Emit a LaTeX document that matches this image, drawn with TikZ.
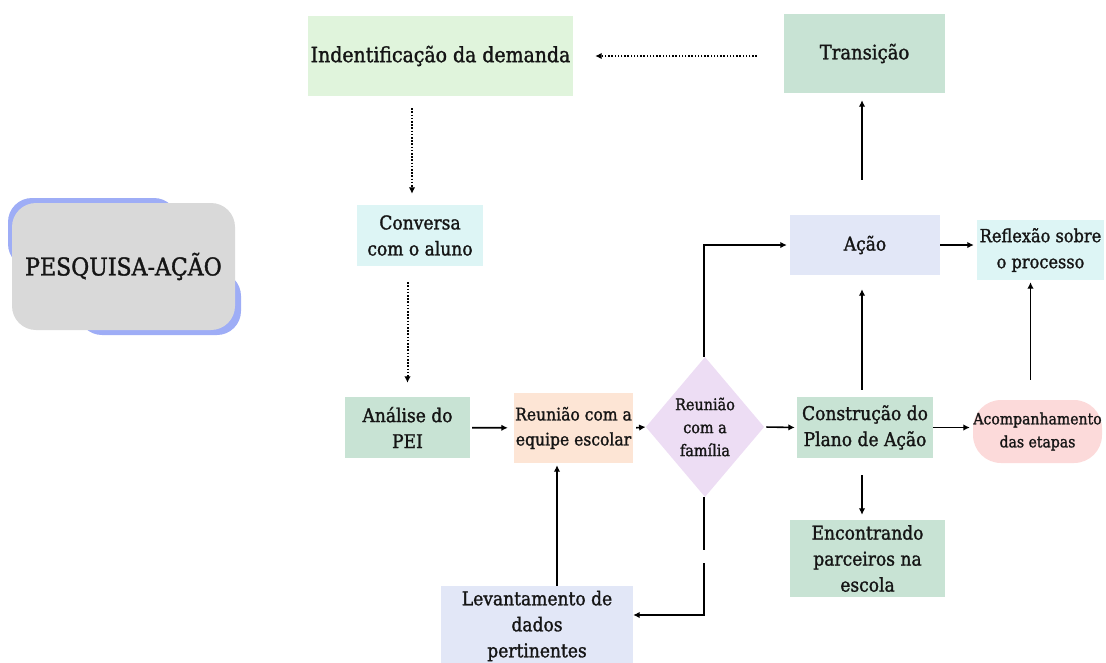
\documentclass[tikz,border=0pt]{standalone}
\usepackage{fontspec}
\setmainfont{DejaVu Serif Condensed}[BoldFont={DejaVu Serif Condensed}, BoldFeatures={FakeBold=1.4}]
\usepackage{tikz}
\usetikzlibrary{shapes.geometric, arrows.meta}

\definecolor{verdeclaro}{HTML}{E0F4DC}
\definecolor{verde}{HTML}{C8E3D4}
\definecolor{ciano}{HTML}{DDF5F5}
\definecolor{pessego}{HTML}{FDE5D5}
\definecolor{lilas}{HTML}{EDDDF4}
\definecolor{azulclaro}{HTML}{E2E7F7}
\definecolor{rosa}{HTML}{FCDADA}
\definecolor{cinza}{HTML}{D9D9D9}
\definecolor{azulsombra}{HTML}{9EADF6}
\definecolor{texto}{HTML}{151515}

\begin{document}
\begin{tikzpicture}[x=1pt, y=-1pt]
    % Styles
    \tikzstyle{caixa} = [rectangle, draw=none, align=center, inner sep=0pt, text=texto, font=\bfseries\fontsize{19}{26}\selectfont]
    \tikzstyle{arrow} = [-{Latex[length=6.5pt,width=6.5pt]}, line width=1.6pt]
    \tikzstyle{dotarrow} = [-{Latex[length=6.5pt,width=6.5pt]}, line width=2pt, dash pattern=on 1.5pt off 1.7pt]
    \tikzstyle{linha} = [line width=1.6pt]

    \useasboundingbox (0,0) rectangle (1106,662);

    % Title block
    \fill[azulsombra, rounded corners=24pt] (8,198) rectangle (178,268);
    \fill[azulsombra, rounded corners=24pt] (78,272) rectangle (241,335);
    \node[caixa, fill=cinza, rounded corners=24pt, minimum width=223pt, minimum height=127pt, font=\bfseries\fontsize{24.5}{28}\selectfont] (titulo) at (123.5,266.5) {PESQUISA-AÇÃO};

    % Nodes
    \node[caixa, fill=verdeclaro, minimum width=265pt, minimum height=80pt, font=\bfseries\fontsize{21}{25}\selectfont] (iden) at (440.5,56) {Indentificação da demanda};
    \node[caixa, fill=verde, minimum width=161pt, minimum height=79pt, font=\bfseries\fontsize{20}{25}\selectfont] (trans) at (864.5,53.5) {Transição};
    \node[caixa, fill=ciano, minimum width=126pt, minimum height=61pt] (conv) at (420,235.5) {Conversa\\com o aluno};
    \node[caixa, fill=verde, minimum width=125pt, minimum height=61pt] (anal) at (407.5,427.5) {Análise do\\PEI};
    \node[caixa, fill=pessego, minimum width=119pt, minimum height=70pt, font=\bfseries\fontsize{17.3}{25}\selectfont] (reun) at (573.5,428) {Reunião com a\\equipe escolar};
    \node[diamond, fill=lilas, inner sep=0pt, minimum width=110pt, minimum height=140pt, align=center, text=texto, font=\bfseries\fontsize{16}{23}\selectfont] (dia) at (705,427) {Reunião\\com a\\família};
    \node[caixa, fill=verde, minimum width=136pt, minimum height=61pt] (cons) at (865,427.5) {Construção do\\Plano de Ação};
    \node[caixa, fill=rosa, rounded corners=28pt, minimum width=129pt, minimum height=63pt, font=\bfseries\fontsize{15.6}{23}\selectfont] (acomp) at (1037.5,431.5) {Acompanhamento\\das etapas};
    \node[caixa, fill=azulclaro, minimum width=150pt, minimum height=60pt] (acao) at (865,245) {Ação};
    \node[caixa, fill=ciano, minimum width=127pt, minimum height=60pt, font=\bfseries\fontsize{18}{26}\selectfont] (refl) at (1040.5,250) {Reflexão sobre\\o processo};
    \node[caixa, fill=azulclaro, minimum width=192pt, minimum height=80pt] (lev) at (537,626) {Levantamento de\\dados\\pertinentes};
    \node[caixa, fill=verde, minimum width=155pt, minimum height=77pt] (enc) at (867.5,558.5) {Encontrando\\parceiros na\\escola};

    \coordinate (gapa) at (704,550);
    \coordinate (gapb) at (704,563);

    % Arrows
    \draw[dotarrow, shorten <=27pt, shorten >=22pt] (trans.west |- iden.east) -- (iden.east);
    \draw[dotarrow, shorten <=12pt, shorten >=11pt] ([xshift=-8pt]conv.north |- iden.south) -- ([xshift=-8pt]conv.north);
    \draw[dotarrow, shorten <=16pt, shorten >=14pt] (conv.south -| anal.north) -- (anal.north);
    \draw[arrow, shorten <=2pt, shorten >=6pt] (anal) -- (reun);
    \draw[arrow, shorten <=3pt] (reun.east) -- (dia.west);
    \draw[arrow, shorten <=2pt, shorten >=2pt] (dia.east) -- (cons.west);
    \draw[arrow, shorten >=3pt] (cons.east) -- (cons.east -| acomp.west);
    \draw[arrow, shorten <=20pt, shorten >=2pt] ([xshift=-7pt]acomp.north) -- ([xshift=-7pt]acomp.north |- refl.south);
    \draw[arrow, shorten <=7pt, shorten >=14pt] ([xshift=-3pt]cons.north) -- ([xshift=-3pt]acao.south);
    \draw[arrow, shorten <=35pt, shorten >=7pt] ([xshift=-3pt]acao.north) -- ([xshift=-3pt]acao.north |- trans.south);
    \draw[arrow, shorten >=3pt] (acao.east) -- (acao.east -| refl.west);
    \draw[arrow, shorten >=3pt] ([xshift=-1pt]dia.north) |- (acao.west);
    \draw[linha] ([xshift=-1pt]dia.south) -- (gapa);
    \draw[arrow] (gapb) |- ([yshift=11pt]lev.east);
    \draw[arrow, shorten >=2pt] ([xshift=20pt]lev.north) -- ([xshift=20pt]lev.north |- reun.south);
    \draw[arrow, shorten <=17pt, shorten >=5pt] ([xshift=-3pt]cons.south) -- ([xshift=-3pt]cons.south |- enc.north);
\end{tikzpicture}
\end{document}
